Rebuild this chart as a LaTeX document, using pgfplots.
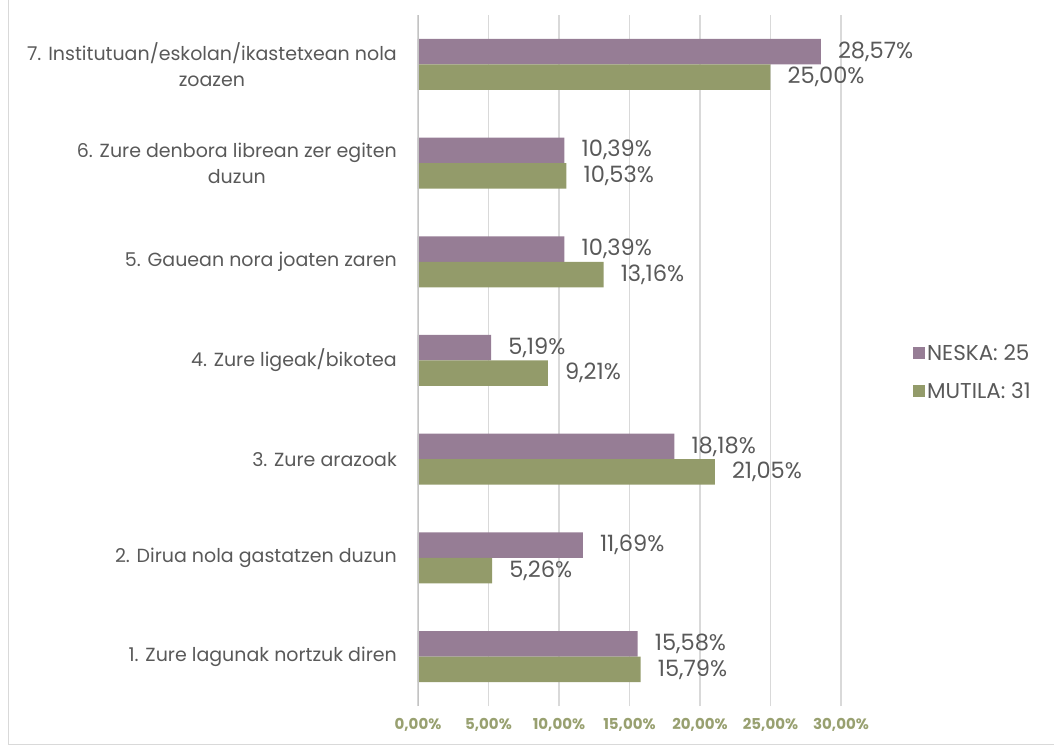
\documentclass[border=0pt]{standalone}
\usepackage{fontspec}
\setmainfont{Poppins}
\usepackage{pgfplots}
\pgfplotsset{compat=1.18}
\definecolor{neska}{HTML}{967D95}
\definecolor{mutila}{HTML}{939B6A}
\definecolor{tickgreen}{HTML}{98A070}
\definecolor{txt}{HTML}{595959}
\definecolor{gridc}{HTML}{D9D9D9}
\begin{document}
\begin{tikzpicture}
\useasboundingbox (-418pt,-43pt) rectangle (636pt,706pt);
\draw[gridc, line width=1pt] (-409pt,706pt) -- (-409pt,-39pt) -- (636pt,-39pt);
\begin{axis}[
    at={(0,0)}, anchor=origin,
    scale only axis,
    width=423pt, height=691pt,
    xbar, bar width=25.5pt,
    xmin=0, xmax=30, ymin=0.5, ymax=7.5,
    xtick={0,5,...,30},
    ytick={1,...,7},
    yticklabels={1. Zure lagunak nortzuk diren,
                 2. Dirua nola gastatzen duzun,
                 3. Zure arazoak,
                 4. Zure ligeak/bikotea,
                 5. Gauean nora joaten zaren,
                 {6. Zure denbora librean zer egiten\\duzun},
                 {7. Institutuan/eskolan/ikastetxean nola\\zoazen}},
    yticklabel style={align=center, font=\fontsize{19}{26}\selectfont, text=txt, inner sep=0pt, xshift=-21pt},
    xticklabel={\pgfmathprintnumber[fixed,fixed zerofill,precision=2,use comma]{\tick}\%},
    xticklabel style={font=\fontsize{15}{18}\selectfont\bfseries, text=tickgreen, inner sep=0pt, yshift=-12pt},
    /pgf/number format/assume math mode=true,
    major tick length=0pt,
    axis line style={draw=none},
    xmajorgrids, grid style={gridc, line width=1.3pt},
    point meta=x,
    nodes near coords={\pgfmathprintnumber[fixed,fixed zerofill,precision=2,use comma]{\pgfplotspointmeta}\%},
    nodes near coords style={font=\fontsize{22.5}{26}\selectfont, text=txt, anchor=west, inner sep=0pt, xshift=17pt},
    legend style={at={(1.17,0.483)}, anchor=west, draw=none, fill=none,
        font=\fontsize{21.5}{24}\selectfont, text=txt, row sep=17pt, inner sep=0pt},
    legend cell align=left,
    legend image code/.code={\fill[#1] (0pt,-6pt) rectangle (12pt,6pt);},
]
\addplot[fill=neska, draw=none, bar shift=12.75pt] coordinates {
    (15.58,1) (11.69,2) (18.18,3) (5.19,4) (10.39,5) (10.39,6) (28.57,7)};
\addplot[fill=mutila, draw=none, bar shift=-12.75pt] coordinates {
    (15.79,1) (5.26,2) (21.05,3) (9.21,4) (13.16,5) (10.53,6) (25.00,7)};
\legend{NESKA: 25, MUTILA: 31}
\draw[gridc!90!black, line width=2pt] (axis cs:0,0.5) -- (axis cs:0,7.5);
\end{axis}
\end{tikzpicture}
\end{document}
